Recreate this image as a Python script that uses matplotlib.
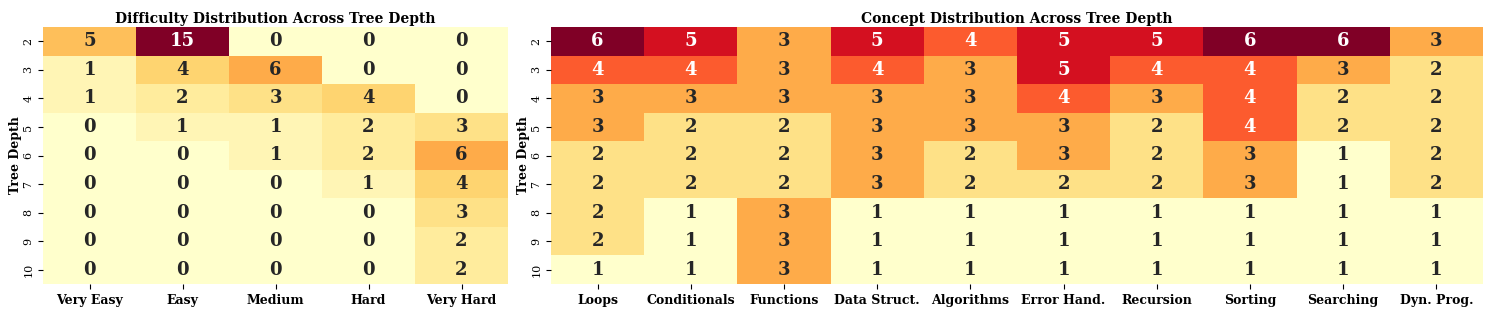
import numpy as np
import matplotlib
matplotlib.use("Agg")
import matplotlib.pyplot as plt
import seaborn as sns

# Tree depth rows
depths = [2, 3, 4, 5, 6, 7, 8, 9, 10]

# Difficulty counts per depth
difficulty_labels = ['Very Easy', 'Easy', 'Medium', 'Hard', 'Very Hard']
very_easy = [5, 1, 1, 0, 0, 0, 0, 0, 0]
easy = [15, 4, 2, 1, 0, 0, 0, 0, 0]
medium = [0, 6, 3, 1, 1, 0, 0, 0, 0]
hard = [0, 0, 4, 2, 2, 1, 0, 0, 0]
very_hard = [0, 0, 0, 3, 6, 4, 3, 2, 2]

# Concept counts per depth
concept_labels = ['Loops', 'Conditionals', 'Functions', 'Data Struct.', 'Algorithms',
                  'Error Hand.', 'Recursion', 'Sorting', 'Searching', 'Dyn. Prog.']
loops = [6, 4, 3, 3, 2, 2, 2, 2, 1]
conditionals = [5, 4, 3, 2, 2, 2, 1, 1, 1]
functions = [3, 3, 3, 2, 2, 2, 3, 3, 3]
data_struct = [5, 4, 3, 3, 3, 3, 1, 1, 1]
algorithms = [4, 3, 3, 3, 2, 2, 1, 1, 1]
error_hand = [5, 5, 4, 3, 3, 2, 1, 1, 1]
recursion = [5, 4, 3, 2, 2, 2, 1, 1, 1]
sorting = [6, 4, 4, 4, 3, 3, 1, 1, 1]
searching = [6, 3, 2, 2, 1, 1, 1, 1, 1]
dyn_prog = [3, 2, 2, 2, 2, 2, 1, 1, 1]

difficulty = np.column_stack([very_easy, easy, medium, hard, very_hard])
concepts = np.column_stack([loops, conditionals, functions, data_struct, algorithms,
                            error_hand, recursion, sorting, searching, dyn_prog])

plt.rcParams['font.family'] = 'DejaVu Serif'

fig = plt.figure(figsize=(14.95, 3.12), dpi=100)
ax1 = fig.add_axes([43 / 1495, 1 - 284 / 312, 465 / 1495, 257 / 312])
ax2 = fig.add_axes([551 / 1495, 1 - 284 / 312, 932 / 1495, 257 / 312])

annot_kw = {'fontsize': 13, 'fontweight': 'bold'}

sns.heatmap(difficulty, ax=ax1, cmap='YlOrRd', annot=True, fmt='d', cbar=False,
            annot_kws=annot_kw, xticklabels=difficulty_labels, yticklabels=depths)
ax1.set_title('Difficulty Distribution Across Tree Depth', fontsize=10,
              fontweight='bold', pad=3)
ax1.set_ylabel('Tree Depth', fontsize=9, fontweight='bold')
ax1.yaxis.set_label_coords(-0.046, 0.5)

sns.heatmap(concepts, ax=ax2, cmap='YlOrRd', annot=True, fmt='d', cbar=False,
            annot_kws=annot_kw, xticklabels=concept_labels, yticklabels=depths)
ax2.set_title('Concept Distribution Across Tree Depth', fontsize=10,
              fontweight='bold', pad=3)
ax2.set_ylabel('Tree Depth', fontsize=9, fontweight='bold')
ax2.yaxis.set_label_coords(-0.023, 0.5)

for ax in (ax1, ax2):
    for lbl in ax.get_xticklabels():
        lbl.set_fontweight('bold')
        lbl.set_fontsize(9)
        lbl.set_rotation(0)
    for lbl in ax.get_yticklabels():
        lbl.set_fontsize(8)
        lbl.set_rotation(90)
        lbl.set_va('center')

fig.savefig('out.png', dpi=100)
